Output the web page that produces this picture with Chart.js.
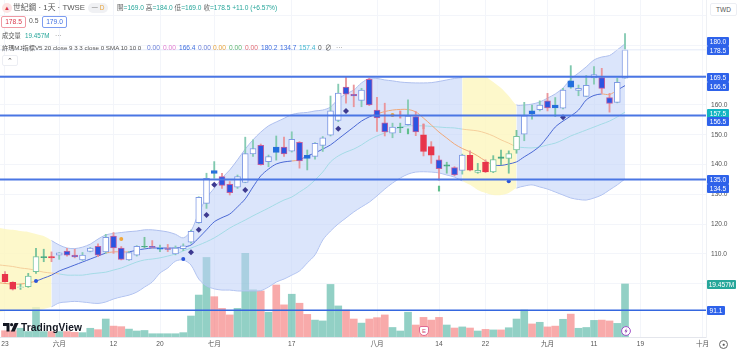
<!DOCTYPE html>
<html><head><meta charset="utf-8">
<style>
html,body{margin:0;padding:0;background:#fff;width:740px;height:351px;overflow:hidden}
body{font-family:"Liberation Sans","Noto Sans CJK TC",sans-serif;position:relative;color:#555}
canvas{position:absolute;left:0;top:0}
.t{position:absolute;white-space:nowrap;font-size:7px;line-height:10px}
.tag{position:absolute;left:707px;width:22px;height:9px;line-height:9px;background:#2e62ea;color:#fff;font-size:6.6px;text-align:center;border-radius:1px}
.box{position:absolute;border-radius:2px;font-size:6.7px;text-align:center;background:#fff}
.v{position:absolute;top:43px;font-size:6.6px;line-height:10px;white-space:nowrap}
</style></head><body>
<canvas id="c" width="740" height="351"></canvas>
<div class="t" style="left:2px;top:3px;width:10px;height:10px;line-height:10px;border-radius:50%;background:#fde3e3;color:#d9364a;text-align:center;font-size:6px">▲</div>
<div class="t" style="left:13px;top:2px;font-size:7.8px;color:#555;line-height:12px">世紀鋼 · 1天 · TWSE</div>
<div class="t" style="left:88px;top:3px;width:20px;height:10px;border-radius:5px;background:#f0f1f4;font-size:6.5px;color:#e8a33a;text-align:center"><span style="color:#888">一</span> D</div>
<div class="t" style="left:117px;top:3px;font-size:6.6px;color:#666">開<span style="color:#26a69a">=169.0</span> 高<span style="color:#26a69a">=184.0</span> 低<span style="color:#26a69a">=169.0</span> 收<span style="color:#26a69a">=178.5 +11.0 (+6.57%)</span></div>
<div class="box" style="left:1px;top:16px;width:23px;height:10px;line-height:10px;border:1px solid #ef9aa4;color:#d9364a">178.5</div>
<div class="t" style="left:29px;top:16px;font-size:6.8px">0.5</div>
<div class="box" style="left:42px;top:16px;width:23px;height:10px;line-height:10px;border:1px solid #7d9cf0;color:#3f6fe0">179.0</div>
<div class="t" style="left:2px;top:31px;font-size:6.3px">成交量</div>
<div class="t" style="left:25px;top:31px;font-size:6.3px;color:#26a69a">19.457M</div>
<div class="t" style="left:55px;top:31px;font-size:6.6px;color:#999">···</div>
<div class="v" style="left:2px;font-size:6.2px">許瑪MJ指標V5 20 close 9 3 3 close 0 SMA 10 10 0</div>
<div class="v" style="left:147px;color:#6a7fd8">0.00</div>
<div class="v" style="left:163px;color:#e27ad0">0.00</div>
<div class="v" style="left:179px;color:#3f6fe0">166.4</div>
<div class="v" style="left:198px;color:#6a7fd8">0.00</div>
<div class="v" style="left:213px;color:#e8a33a">0.00</div>
<div class="v" style="left:229px;color:#5cb56e">0.00</div>
<div class="v" style="left:245px;color:#e26a72">0.00</div>
<div class="v" style="left:261px;color:#3f6fe0">180.2</div>
<div class="v" style="left:280px;color:#3f6fe0">134.7</div>
<div class="v" style="left:299px;color:#3fb6d0">157.4</div>
<div class="v" style="left:318px">0</div>
<div class="v" style="left:325px">∅</div>
<div class="v" style="left:336px;color:#999">···</div>
<div class="box" style="left:2px;top:55px;width:14px;height:9px;line-height:9px;border:1px solid #eceef3;color:#444;font-size:7px">⌃</div>
<div class="box" style="left:710px;top:3px;width:25px;height:11px;line-height:11px;border:1px solid #eceef3;color:#555;font-size:6.5px">TWD</div>
<div class="tag" style="top:37px">180.0</div>
<div class="tag" style="top:46px">178.5</div>
<div class="tag" style="top:73px">169.5</div>
<div class="tag" style="top:82px">166.5</div>
<div class="tag" style="top:109px;background:#12b5c2">157.5</div>
<div class="tag" style="top:117px">156.5</div>
<div class="tag" style="top:175px">135.0</div>
<div class="tag" style="top:184px">134.5</div>
<div class="tag" style="top:280px;width:29px;background:#26a69a">19.457M</div>
<div class="tag" style="top:306px;width:18px">91.1</div>
<div class="t" style="left:719px;top:340px;width:9px;height:9px;line-height:7px;border:1px solid #666;border-radius:50%;font-size:5px;text-align:center;box-sizing:border-box">●</div>
<svg style="position:absolute;left:3px;top:323px" width="16" height="9" viewBox="0 0 16 9"><path d="M0 0h6.5v8.5H3.5V3H0z" fill="#131722"/><circle cx="8.6" cy="1.7" r="1.6" fill="#131722"/><path d="M11.6 0H15.5L11.7 8.5H7.9z" fill="#131722"/></svg>
<div class="t" style="left:21px;top:321px;font-size:10.2px;line-height:13px;font-weight:700;color:#131722;letter-spacing:.1px">TradingView</div>
<div class="t" style="left:419px;top:326px;width:10px;height:10px;line-height:9px;border:1px solid #e06a92;border-radius:2px 2px 5px 5px;font-size:6px;color:#d0507a;background:#fff;text-align:center;box-sizing:border-box">E</div>
<svg style="position:absolute;left:621px;top:326px" width="10" height="10" viewBox="0 0 10 10"><circle cx="5" cy="5" r="4.4" fill="#fff" stroke="#a050c8" stroke-width="1"/><path d="M5.8 2 3.4 5.4H5L4.2 8 6.6 4.6H5z" fill="#8a3ab0"/></svg>

<script src="https://cdn.jsdelivr.net/npm/chart.js@4/dist/chart.umd.min.js"></script>
<script>
const opens=[103.2,100.5,98.8,99.0,104.1,108.8,109.1,109.6,111.0,109.6,108.0,110.9,112.6,110.7,116.0,112.0,108.0,109.6,112.4,112.6,111.6,111.8,110.0,111.8,114.0,120.5,127.0,138.0,136.0,133.4,132.4,134.0,143.6,146.5,141.0,145.9,145.9,144.5,147.5,143.1,142.7,146.4,149.9,154.8,166.0,163.6,161.5,168.6,158.3,154.0,150.5,152.3,153.4,156.1,150.0,146.0,141.6,139.5,139.0,138.0,143.1,137.4,140.8,137.5,142.1,142.1,144.9,150.2,158.0,158.4,161.4,160.0,158.9,168.1,164.9,162.9,169.1,169.2,162.5,160.9,169.0];
const highs=[104.1,100.7,99.9,103.5,111.9,111.6,110.7,110.5,111.9,111.6,110.5,112.2,113.4,116.6,117.2,112.5,110.9,112.8,115.6,114.5,113.0,113.2,112.7,113.4,118.0,129.2,137.1,141.0,137.1,134.3,136.5,149.2,148.3,146.9,143.2,149.6,149.2,151.0,147.7,144.9,147.4,149.4,163.0,167.0,169.5,166.7,165.6,169.0,162.6,160.6,153.9,153.9,161.7,157.8,153.6,147.7,142.9,140.8,139.3,143.5,144.6,140.4,141.6,143.0,144.9,144.6,151.5,160.9,160.0,161.4,163.9,162.5,165.6,173.2,166.7,169.9,172.9,172.3,163.9,169.0,184.0];
const lows=[100.5,97.9,98.1,98.8,103.5,107.4,107.4,108.2,109.3,108.7,107.8,110.7,109.1,110.2,110.2,108.0,107.8,109.3,112.0,112.0,110.8,110.8,109.7,111.1,113.6,120.3,125.3,135.4,132.0,129.8,132.0,133.9,142.7,139.8,139.3,141.5,142.7,144.2,138.8,138.2,141.8,144.4,149.6,154.4,160.6,159.4,159.4,159.8,151.1,149.6,149.0,150.7,153.2,149.7,142.9,140.4,134.8,137.1,136.2,136.8,137.9,137.1,137.3,137.3,139.9,137.1,143.8,148.0,155.2,158.0,158.0,156.1,158.7,165.6,163.1,162.8,167.0,163.9,157.6,160.7,169.0];
const closes=[100.7,98.2,99.0,102.6,109.1,109.1,108.7,110.4,109.6,109.0,109.6,112.0,109.6,115.6,112.0,108.2,110.5,112.6,112.6,112.2,112.0,111.5,112.0,112.7,117.6,129.0,135.4,137.0,133.0,130.6,136.0,143.7,145.4,140.0,142.7,144.1,143.6,148.5,141.2,142.1,147.1,149.0,158.0,164.0,163.6,163.0,165.0,160.0,155.7,151.0,152.6,152.6,156.3,151.0,144.4,143.2,138.6,139.9,136.5,143.2,138.1,138.1,137.5,141.7,142.6,143.7,149.5,156.4,157.0,160.0,159.0,159.0,165.0,166.0,165.6,166.6,170.2,165.6,160.5,167.6,178.5];
const candleKinds="rrgggdrhbbhhbhbbhhdbubhhhhhubbhhhbhubhbuhhhhbbhbbbhdhbrrbdbhrgrgdgghuhbuhuhhhbbhh";
const volumes=[2.3,2.3,3.2,2.0,10.9,2.0,2.0,2.0,2.0,1.7,1.6,3.2,2.7,6.6,4.0,3.8,2.9,2.2,2.4,1.2,1.2,1.2,1.2,1.6,7.7,15.4,29.2,14.8,10.5,8.1,10.5,30.7,17.3,16.9,9.1,19.1,11.8,15.7,12.4,8.3,6.2,5.9,19.3,11.4,9.9,6.6,5.1,6.6,7.1,8.1,3.5,2.2,9.1,4.4,7.2,6.2,7.2,4.4,3.3,3.7,3.3,2.2,2.8,2.6,2.6,3.4,6.6,9.9,4.8,5.4,3.7,4.0,6.5,8.4,3.2,3.5,6.1,6.2,5.9,5.0,19.457];
const volumeSides="rrggggrgrrggrgrrgggggggggggrrrgggrgrrgrrggggrrgrrrgggrrrrgrgrgrgrgggrgrrgrgggrrgg".split("");
/* first entry of each band/MA series sits just left of candle 0 */
const lineXs=[-0.645].concat(opens.map((_,i)=>i));
const bbUpper=[118.7,118.4,118.1,117.7,117.4,116.7,116.0,114.5,113.0,112.0,111.8,112.3,113.3,115.0,116.4,116.9,117.2,117.5,117.7,118.1,118.1,117.8,117.4,116.6,115.4,117.7,123.8,128.8,132.1,135.5,138.2,141.6,145.2,148.3,150.9,153.0,154.3,155.5,156.8,157.3,157.5,158.0,158.3,159.3,162.0,163.7,165.0,167.4,168.9,168.9,168.4,168.1,167.7,167.5,167.4,167.4,167.5,167.9,168.4,168.9,169.2,169.6,169.6,169.5,167.7,165.7,163.0,160.0,160.0,160.3,161.0,162.3,163.7,165.7,168.7,170.7,172.8,175.1,176.1,176.6,178.5,180.5];
const bbLower=[90.5,90.9,90.9,90.9,90.9,90.9,91.5,92.3,93.6,93.9,94.1,93.9,93.6,93.4,93.9,94.9,95.6,96.2,97.2,98.9,100.6,103.6,105.3,107.6,108.0,106.3,101.6,99.3,98.3,97.9,97.9,97.6,97.6,97.6,97.7,98.9,100.6,101.6,102.9,104.3,107.0,109.7,114.7,117.7,120.1,122.1,124.1,125.8,127.4,129.5,131.8,133.8,135.5,136.8,137.5,137.6,137.5,137.2,136.5,135.8,134.5,133.2,131.5,130.5,129.8,129.8,130.5,132.1,132.8,133.2,132.5,131.8,130.8,129.8,128.8,128.3,128.1,128.8,129.8,131.5,133.2,135.2];
const bbBasis=[106.3,106.1,105.8,105.3,105.0,104.5,103.9,103.6,103.3,102.9,102.9,102.9,103.3,103.6,103.9,104.6,105.3,106.3,107.3,108.0,108.3,108.7,109.3,110.0,111.0,112.0,113.0,114.1,115.4,117.0,118.7,120.1,121.4,122.8,124.1,125.4,126.8,128.1,129.1,130.8,132.5,134.8,137.5,140.9,142.9,144.2,145.2,146.6,148.3,149.6,150.6,151.6,152.6,153.0,153.0,153.0,152.8,152.6,152.4,152.3,151.9,151.6,151.3,150.6,149.6,148.3,147.2,146.0,145.7,145.6,145.9,146.6,147.2,148.3,149.6,150.6,151.6,152.6,153.6,154.6,156.0,157.6];
const maShort=[100.3,100.1,99.9,99.9,100.3,100.9,101.9,102.9,104.3,105.3,106.3,107.3,108.3,109.3,110.3,110.7,110.7,110.7,111.3,111.7,112.0,112.0,112.0,112.0,112.3,113.0,115.4,118.1,120.8,122.2,123.4,125.8,128.5,132.5,136.2,138.5,140.2,140.9,141.2,141.6,142.9,143.9,145.2,146.6,148.6,150.6,152.6,154.6,156.0,157.0,157.8,158.3,158.5,158.5,157.7,155.6,153.3,150.9,148.9,146.9,145.4,144.3,142.9,141.2,139.9,139.7,140.2,140.9,142.6,144.2,146.2,149.3,152.6,154.6,156.3,158.3,161.7,163.2,163.7,163.5,165.0,166.5];
const yellowRanges=[[-1,6],[59,66]];
const orangeShort=[[-1,4],[13,16],[37,38],[48,63],[77,79]];
const orangeBasis=[[-1,7],[59,66]];
const levels=[169.5,156.5,135.0,91.1];
const paleLevel=178.5;
const diamondIdx=[24,25,26,27,31,43,44,72], diamondVal=[110.6,118.1,123.1,133.2,131.5,152.0,158.0,155.9];
const dotIdx=[4,23,65], dotVal=[100.9,108.3,134.4];
const orangeIdx=[15,50], orangeVal=[115.0,156.6];
const markIdx=[52,56,51,54], markLo=[150.3,131.1,155.6,152.0], markHi=[152.0,132.8,158.0,153.6], markCol=["#5fbf8c","#5fbf8c","#e88a90","#e88a90"];
const tickIdx=[0,7,14,20,27,37,48,56,62,70,76,82,90];
const tickText=["23","六月","12","20","七月","17","八月","14","22","九月","11","19","十月"];

const kindStyle={
 h:{fill:"#ffffff",edge:"#7f9ae4",wick:"#86cbb4"},
 b:{fill:"#2b55e2",edge:"#c4609e",wick:"#e9969c"},
 u:{fill:"#1f6fe0",edge:"#2b6fd8",wick:"#7fc8ae"},
 r:{fill:"#e8344a",edge:"#e8344a",wick:"#e9969c"},
 g:{fill:"#ffffff",edge:"#78c39c",wick:"#78c39c"},
 d:{fill:"#2f9e78",edge:"#4aa884",wick:"#78c39c"}
};
const inR=(x,rs)=>rs.some(r=>x>=r[0]&&x<r[1]);
const pts=a=>a.map((y,i)=>({x:lineXs[i],y}));
const lev=v=>[{x:-1,y:v},{x:91,y:v}];
const kinds=candleKinds.split("");
const levelDs=(v,w,c)=>({type:"line",data:lev(v),borderColor:c,borderWidth:w,pointRadius:0,order:-1});
const common={type:"line",pointRadius:0,tension:0.3};
new Chart(document.getElementById("c"),{
 data:{datasets:[
  levelDs(levels[0],2,"#4a76e4"),levelDs(levels[1],2,"#4a76e4"),levelDs(levels[2],2,"#4a76e4"),levelDs(levels[3],1.5,"#3567df"),
  levelDs(paleLevel,1,"#e3e9f8"),
  {type:"scatter",data:diamondIdx.map((x,i)=>({x,y:diamondVal[i]})),pointStyle:"rectRot",pointRadius:3,backgroundColor:"#3d3a90",borderWidth:0,order:0},
  {type:"scatter",data:dotIdx.map((x,i)=>({x,y:dotVal[i]})),pointStyle:"circle",pointRadius:2,backgroundColor:"#2b55d8",borderWidth:0,order:0},
  {type:"scatter",data:orangeIdx.map((x,i)=>({x,y:orangeVal[i]})),pointStyle:"circle",pointRadius:2,backgroundColor:"#f0a83c",borderWidth:0,order:0},
  {type:"bar",grouped:false,data:markIdx.map((x,i)=>({x,y:[markLo[i],markHi[i]]})),barThickness:1.5,backgroundColor:markCol,borderWidth:0,order:0},
  {type:"bar",grouped:false,data:opens.map((o,i)=>({x:i,y:[Math.min(o,closes[i]),Math.max(o,closes[i])]})),barThickness:6,
    backgroundColor:kinds.map(k=>kindStyle[k].fill),borderColor:kinds.map(k=>kindStyle[k].edge),borderWidth:1,borderSkipped:false,order:1},
  {type:"bar",grouped:false,data:lows.map((l,i)=>({x:i,y:[l,highs[i]]})),barThickness:1.2,
    backgroundColor:kinds.map(k=>kindStyle[k].wick),borderWidth:0,order:2},
  {...common,data:pts(maShort),borderWidth:1,borderColor:"#4a68d4",order:3,
    segment:{borderColor:c=>inR(lineXs[c.p0DataIndex],orangeShort)?"#f0a878":"#4a68d4"}},
  {...common,data:pts(bbBasis),borderWidth:1,borderColor:"#a4dbe6",order:4,
    segment:{borderColor:c=>inR(lineXs[c.p0DataIndex],orangeBasis)?"#f5cf9c":"#a4dbe6"}},
  {...common,data:pts(bbUpper),borderWidth:1,borderColor:"#aebfee",backgroundColor:"rgba(190,207,248,0.55)",fill:"+1",order:5,
    segment:{borderColor:c=>inR(lineXs[c.p0DataIndex],yellowRanges)?"rgba(0,0,0,0)":"#aebfee",
             backgroundColor:c=>inR(lineXs[c.p0DataIndex],yellowRanges)?"rgba(253,246,190,0.8)":"rgba(190,207,248,0.55)"}},
  {...common,data:pts(bbLower),borderWidth:1,borderColor:"#aebfee",order:6,
    segment:{borderColor:c=>inR(lineXs[c.p0DataIndex],yellowRanges)?"rgba(0,0,0,0)":"#aebfee"}},
  {type:"bar",grouped:false,yAxisID:"vol",data:volumes.map((v,i)=>({x:i,y:v})),barThickness:7,
    backgroundColor:volumeSides.map(s=>s==="r"?"rgba(242,100,100,0.55)":"rgba(56,170,150,0.55)"),borderWidth:0,order:7}
 ]},
 options:{
  responsive:false,animation:false,
  layout:{padding:0,autoPadding:false},
  plugins:{legend:{display:false},tooltip:{enabled:false}},
  scales:{
   x:{type:"linear",offset:false,min:-0.645,max:90.45,
    afterBuildTicks:s=>{s.ticks=tickIdx.map(v=>({value:v}));},
    afterFit:s=>{s.height=14;s.paddingLeft=0;s.paddingRight=0;},
    grid:{color:"#f3f5fa",drawTicks:false,lineWidth:1,offset:false},
    border:{color:"#e4e6ec"},
    ticks:{autoSkip:false,maxRotation:0,padding:3,color:"#555",font:{size:6.6,family:"'Liberation Sans','Noto Sans CJK TC',sans-serif"},
      callback:v=>{const k=tickIdx.indexOf(v);return k<0?"":tickText[k];}}},
   y:{type:"linear",position:"right",min:82.14,max:195.23,
    afterBuildTicks:s=>{s.ticks=[100,110,120,130,140,150,160,170,180,190].map(v=>({value:v}));},
    afterFit:s=>{s.width=34;s.paddingTop=0;s.paddingBottom=0;},
    grid:{color:"#f3f5fa",drawTicks:false},
    border:{color:"#eef0f4"},
    ticks:{padding:5,color:"#555",font:{size:6.6,family:"'Liberation Sans',sans-serif"},
      callback:v=>(v>=110&&v<=160)?v.toFixed(1):""}},
   vol:{type:"linear",display:false,min:0,max:123.7,ticks:{display:false},
    afterFit:s=>{s.paddingTop=0;s.paddingBottom=0;s.paddingLeft=0;s.paddingRight=0;}}
  }
 }
});
</script>
</body></html>
